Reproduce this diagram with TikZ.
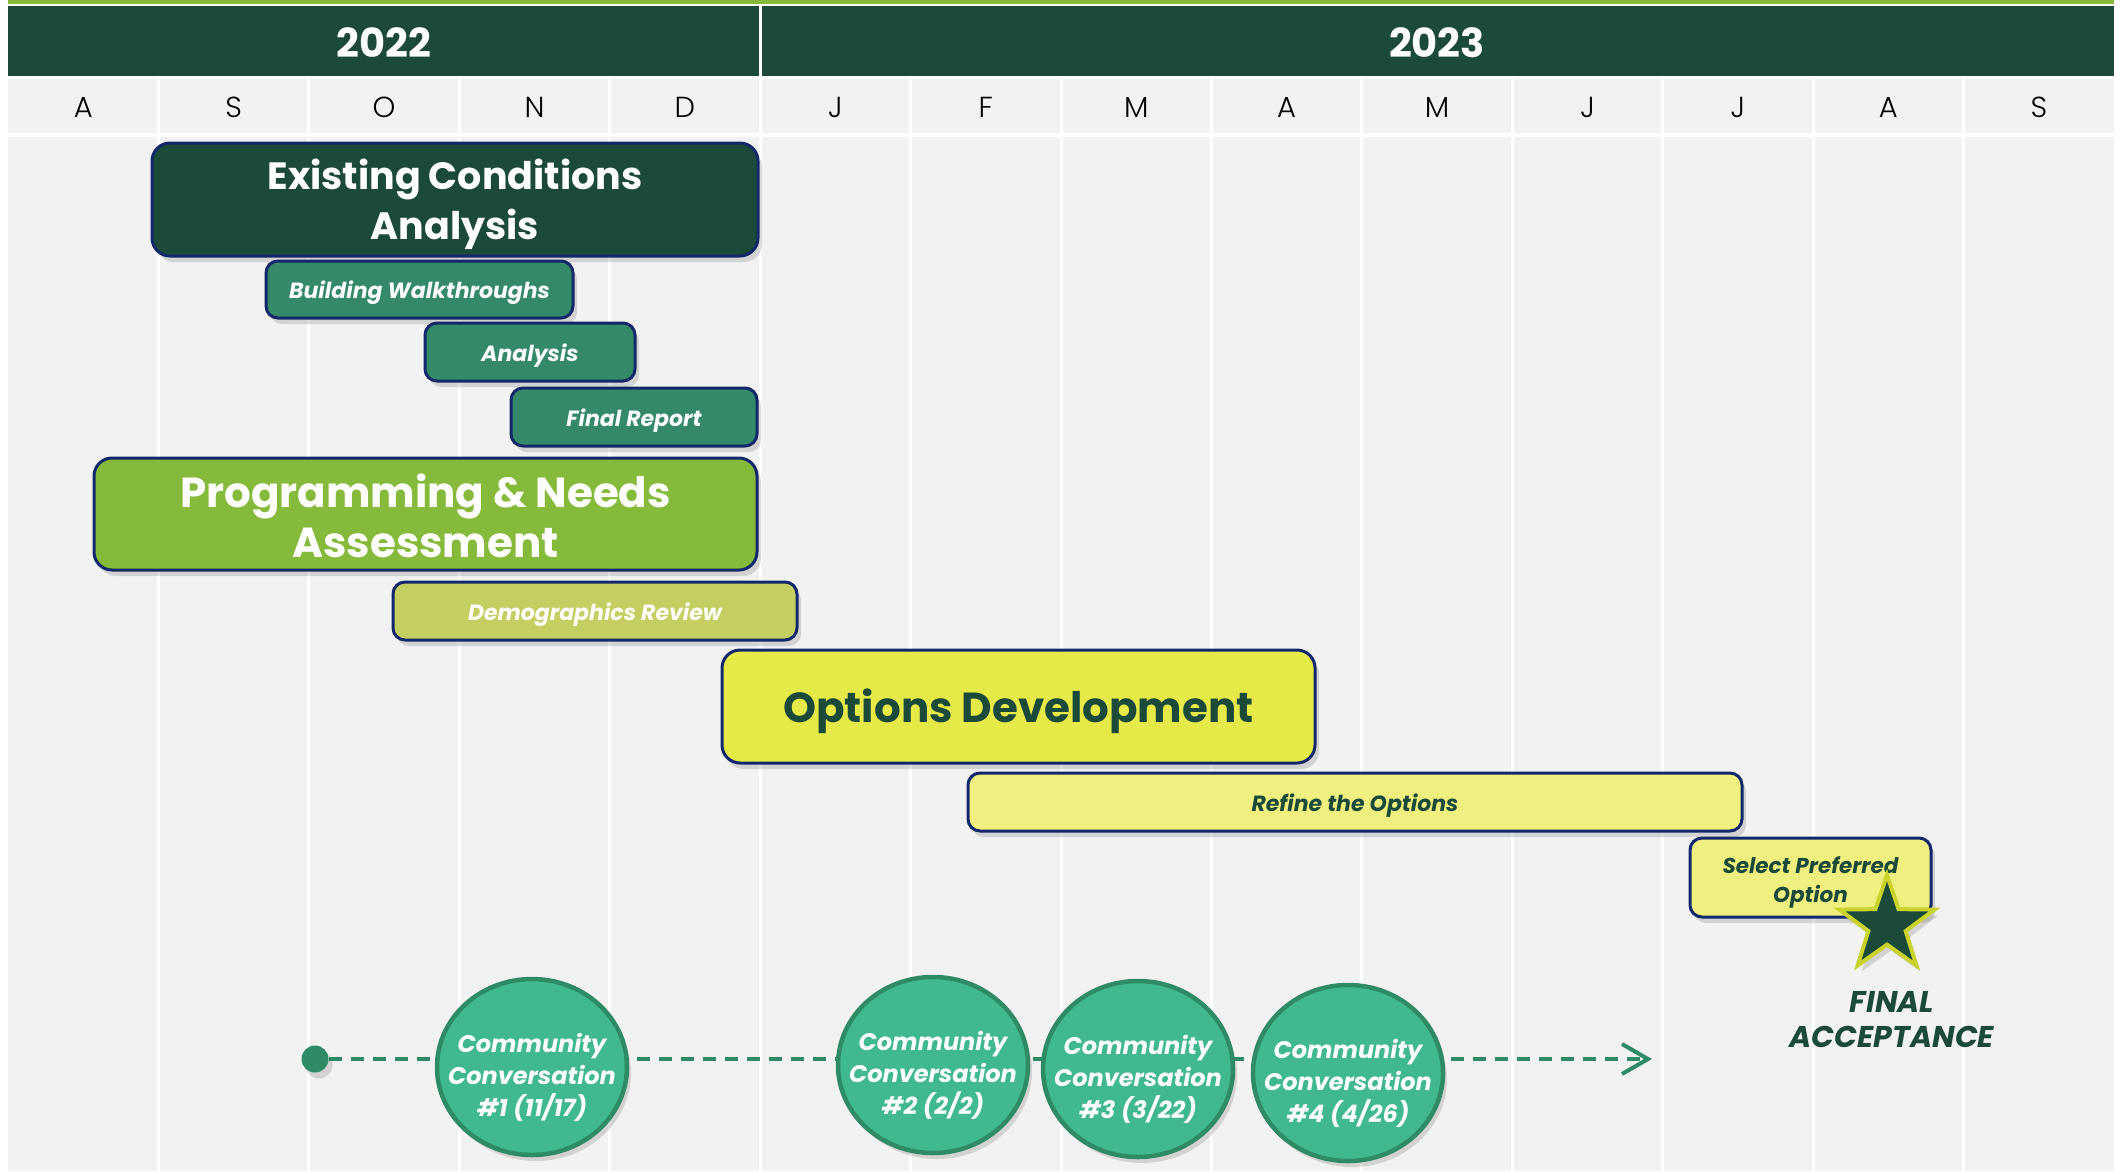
\documentclass[tikz,border=0pt]{standalone}
\usepackage{fontspec}
\setmainfont{Poppins}
\IfFontExistsTF{Poppins Light}{\newfontfamily\monthfont{Poppins Light}}{\newfontfamily\monthfont{Poppins}}
\usetikzlibrary{shapes.geometric,shadows,arrows.meta}
\definecolor{dkgreen}{HTML}{1B4A39}
\definecolor{limeline}{HTML}{86BA3A}
\definecolor{gridbg}{HTML}{F2F2F2}
\definecolor{tealbar}{HTML}{348A68}
\definecolor{progbar}{HTML}{86BA3A}
\definecolor{demobar}{HTML}{C5CE60}
\definecolor{optbar}{HTML}{E6EA48}
\definecolor{refbar}{HTML}{EFF07F}
\definecolor{barline}{HTML}{12286A}
\definecolor{ccfill}{HTML}{41B98E}
\definecolor{ccline}{HTML}{2E8B66}
\definecolor{starline}{HTML}{C9D32B}
\newcommand{\sdown}[2]{\raisebox{-#1}[\height][\depth]{#2}}
\newcommand{\stack}[1]{\begin{tabular}{@{}c@{}}#1\end{tabular}}
\tikzset{
  softshadow/.style={drop shadow={opacity=0.28, shadow xshift=4pt, shadow yshift=-6pt}},
  bar/.style={draw=barline, line width=3pt, rounded corners=12pt, inner sep=0pt, align=center, softshadow},
  bigbar/.style={bar, rounded corners=18pt},
  bigtext/.style={font=\bfseries\fontsize{38}{50}\selectfont},
  smalltext/.style={font=\bfseries\itshape\fontsize{22}{29}\selectfont},
  monthlbl/.style={font=\monthfont\fontsize{29}{29}\selectfont, text=black},
  yearlbl/.style={font=\bfseries\fontsize{40}{40}\selectfont, text=white},
  ccnode/.style={ellipse, fill=ccfill, draw=ccline, line width=4.5pt, inner sep=0pt, minimum width=190pt, minimum height=176pt, text=white, align=center, font=\bfseries\itshape\fontsize{24}{32}\selectfont, softshadow},
}
\begin{document}
\begin{tikzpicture}[x=1pt, y=-1pt]
\useasboundingbox (0,0) rectangle (2121,1171);
\fill[white] (0,0) rectangle (2121,1171);
% top line and header
\fill[limeline] (8,0) rectangle (2114,3.5);
\fill[dkgreen] (8,5.5) rectangle (2114,76);
\draw[white, line width=3pt] (760,5.5) -- (760,76);
\node[yearlbl] (y2022) at (384,43) {2022};
\node[yearlbl] (y2023) at (1437,43) {2023};
% grid
\fill[gridbg] (8,79) rectangle (2114,1171);
\foreach \k in {1,...,13} {
  \draw[white, line width=3pt] ({8+150.43*\k},79) -- ({8+150.43*\k},1171);
}
\draw[white, line width=3.5pt] (8,135) -- (2114,135);
\foreach \m [count=\i from 0] in {A,S,O,N,D,J,F,M,A,M,J,J,A,S} {
  \node[monthlbl] (month\i) at ({8+150.43*(\i+0.5)},107) {\m};
}
% bars
\node[bigbar, bigtext, fill=dkgreen, text=white, minimum width=606pt, minimum height=113pt] (eca) at (455,199.5) {\sdown{5pt}{\stack{Existing Conditions\\Analysis}}};
\node[bar, smalltext, fill=tealbar, text=white, minimum width=307pt, minimum height=57pt] (bw) at (419.5,289.5) {\sdown{3pt}{Building Walkthroughs}};
\node[bar, smalltext, fill=tealbar, text=white, minimum width=210pt, minimum height=58pt] (an) at (530,352) {\sdown{4pt}{Analysis}};
\node[bar, smalltext, fill=tealbar, text=white, minimum width=246pt, minimum height=58pt] (fr) at (634,417) {\sdown{4pt}{Final Report}};
\node[bigbar, font=\bfseries\fontsize{42}{50}\selectfont, fill=progbar, text=white, minimum width=663pt, minimum height=112pt] (pna) at (425.5,514) {\sdown{8pt}{\stack{Programming \& Needs\\Assessment}}};
\node[bar, smalltext, fill=demobar, text=white, minimum width=404pt, minimum height=58pt] (dr) at (595,611) {\sdown{4pt}{Demographics Review}};
\node[bigbar, font=\bfseries\fontsize{42}{50}\selectfont, fill=optbar, text=dkgreen, minimum width=593pt, minimum height=113pt] (od) at (1018.5,706.5) {\sdown{5pt}{Options Development}};
\node[bar, smalltext, fill=refbar, text=dkgreen, minimum width=774pt, minimum height=58pt] (ro) at (1355,802) {\sdown{4pt}{Refine the Options}};
\node[bar, font=\bfseries\itshape\fontsize{21.5}{29}\selectfont, fill=refbar, text=dkgreen, minimum width=241pt, minimum height=79pt] (spo) at (1810.5,877.5) {\sdown{5pt}{\stack{Select Preferred\\Option}}};
% star
\node[star, star points=5, star point ratio=2.55, minimum size=100pt, inner sep=0pt, fill=dkgreen, draw=starline, line width=4pt, softshadow] (star) at (1887,925) {};
\node[font=\bfseries\itshape\fontsize{30}{35}\selectfont, text=dkgreen, align=center] (fa) at (1892,1020) {FINAL\\ACCEPTANCE};
% community conversations
\node[circle, fill=ccline, minimum size=27pt, inner sep=0pt, softshadow] (dot) at (315,1059) {};
\coordinate (arrowend) at (1652,1059);
\draw[ccline, line width=4pt, dash pattern=on 13pt off 9pt, -{Straight Barb[length=26pt,width=30pt,line width=4pt]}] (dot) -- (arrowend);
\node[ccnode] (cc1) at (532,1067) {\makebox[0pt]{\sdown{11pt}{\stack{Community\\Conversation\\\#1 (11/17)}}}};
\node[ccnode] (cc2) at (933,1065) {\makebox[0pt]{\sdown{11pt}{\stack{Community\\Conversation\\\#2 (2/2)}}}};
\node[ccnode] (cc3) at (1138,1069) {\makebox[0pt]{\sdown{11pt}{\stack{Community\\Conversation\\\#3 (3/22)}}}};
\node[ccnode] (cc4) at (1348,1073) {\makebox[0pt]{\sdown{11pt}{\stack{Community\\Conversation\\\#4 (4/26)}}}};
\end{tikzpicture}
\end{document}
